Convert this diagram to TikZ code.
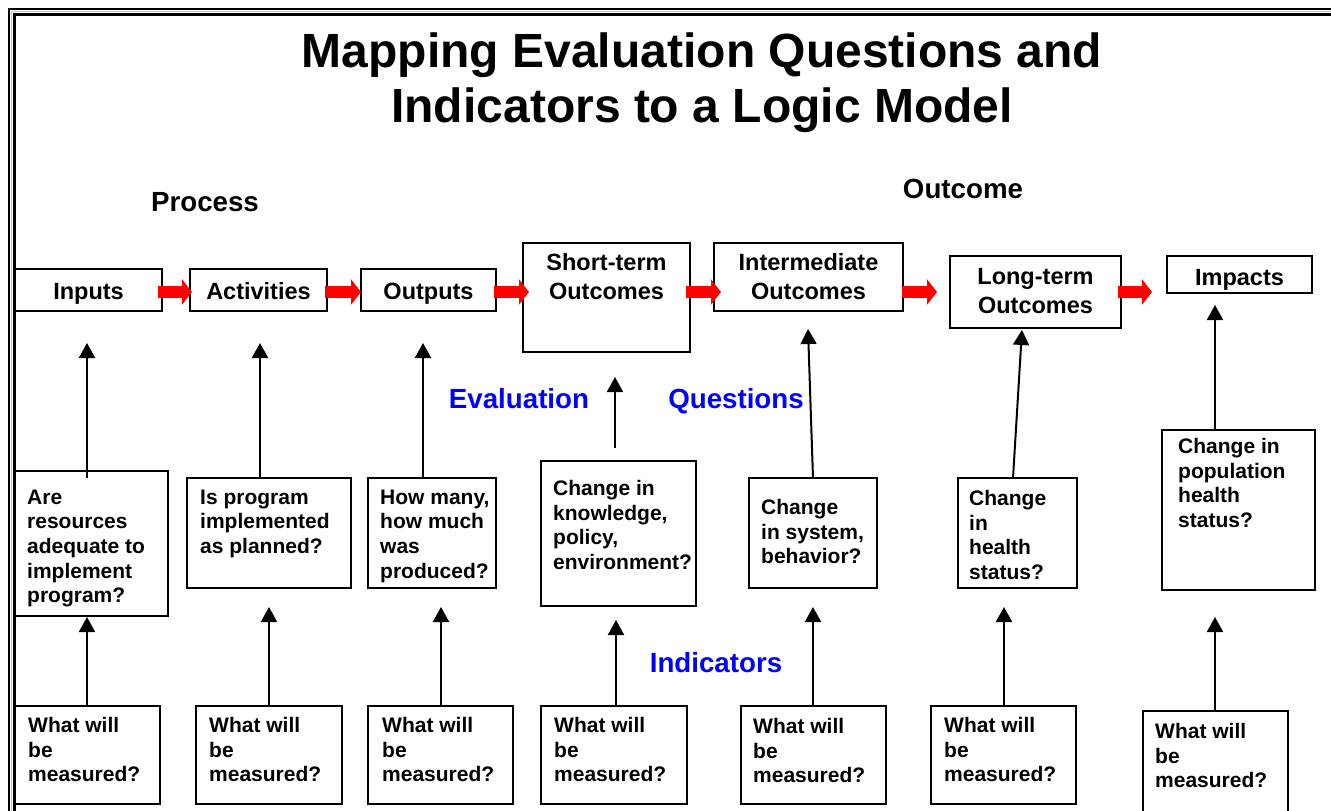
\documentclass[tikz,border=0pt]{standalone}
\usepackage{fontspec}
\setmainfont{Liberation Sans}
\usetikzlibrary{arrows.meta,calc}
\definecolor{pblue}{RGB}{0,0,255}
\newcommand\mkbox[5]{\node[bx,minimum width=#4-#2,minimum height=#5-#3] (#1) at (#2,#3) {};}
\begin{document}
\begin{tikzpicture}[x=1pt,y=-1pt,
  bx/.style={draw,line width=2pt,inner sep=0pt,outer sep=0pt,anchor=north west},
  qtxt/.style={font=\fontsize{21}{24.7}\selectfont\bfseries,align=left,anchor=north west,inner sep=0pt},
  htxt/.style={font=\fontsize{23.5}{29}\selectfont\bfseries,align=center,inner sep=0pt},
  sec/.style={font=\fontsize{27.7}{33}\selectfont\bfseries,inner sep=0pt,anchor=base},
  up/.style={line width=2pt,-{Triangle[length=15pt,width=16pt]}},
  flow/.style={red,line width=12pt,-{Triangle[length=10pt,width=25pt]}}]
\useasboundingbox (0,0) rectangle (1331,811);
\clip (0,0) rectangle (1331,811);
\fill[white] (0,0) rectangle (1331,811);
% frame
\draw[line width=2.8pt] (9,9) rectangle (1400,900);
\draw[gray!50,line width=0.8pt] (11.6,11.6) rectangle (1400,900);
\draw[line width=3pt] (14.2,14.2) rectangle (1400,900);
% title and section labels
\node[font=\fontsize{48}{55}\selectfont\bfseries,align=center,anchor=north,inner sep=0pt] (title) at (702,33) {Mapping Evaluation Questions and\\Indicators to a Logic Model};
\node[sec] (process) at (205,211) {Process};
\node[sec] (outcome) at (963,198) {Outcome};
\node[sec,text=pblue] (evaluation) at (519,408) {Evaluation};
\node[sec,text=pblue] (questions) at (736,408) {Questions};
\node[sec,text=pblue] (indicators) at (716,672) {Indicators};
% header boxes
\mkbox{hin}{15}{269}{162}{311}
\mkbox{hact}{190}{269}{327}{311}
\mkbox{hout}{361}{269}{496}{311}
\mkbox{hst}{523}{243}{690}{352}
\mkbox{him}{714}{243}{903}{311}
\mkbox{hlt}{950}{256}{1121}{328}
\mkbox{himp}{1167}{256}{1312}{293}
\node[htxt,anchor=base] (tin) at (88.5,299.4) {Inputs};
\node[htxt,anchor=base] (tact) at (258.5,299.4) {Activities};
\node[htxt,anchor=base] (tout) at (428.5,299.4) {Outputs};
\node[htxt] (tst) at (606.5,277) {Short-term\\Outcomes};
\node[htxt] (tim) at (808.5,277) {Intermediate\\Outcomes};
\node[htxt] (tlt) at (1035.5,291) {Long-term\\Outcomes};
\node[htxt,anchor=base] (timp) at (1239.5,285.4) {Impacts};
% question boxes
\mkbox{qb1}{15}{471}{168}{616}
\mkbox{qb2}{187}{478}{351}{588}
\mkbox{qb3}{368}{478}{496}{588}
\mkbox{qb4}{541}{461}{696}{606}
\mkbox{qb5}{749}{478}{877}{588}
\mkbox{qb6}{958}{478}{1077}{588}
\mkbox{qb7}{1162}{430}{1315}{590}
\node[qtxt] (q1) at (27,489.5) {Are\\resources\\adequate to\\implement\\program?};
\node[qtxt] (q2) at (200,489.5) {Is program\\implemented\\as planned?};
\node[qtxt] (q3) at (380,489.5) {How many,\\how much\\was\\produced?};
\node[qtxt] (q4) at (553,480) {Change in\\knowledge,\\policy,\\environment?};
\node[qtxt] (q5) at (761,499) {Change\\in system,\\behavior?};
\node[qtxt] (q6) at (969,490) {Change\\in\\health\\status?};
\node[qtxt] (q7) at (1178,438) {Change in\\population\\health\\status?};
% measured boxes
\mkbox{mb1}{15}{706}{160}{804}
\mkbox{mb2}{196}{706}{342}{804}
\mkbox{mb3}{368}{706}{513}{804}
\mkbox{mb4}{541}{706}{687}{804}
\mkbox{mb5}{741}{706}{886}{804}
\mkbox{mb6}{931}{706}{1076}{804}
\mkbox{mb7}{1143}{711}{1288}{840}
\node[qtxt] (m1) at (28,717) {What will\\be\\measured?};
\node[qtxt] (m2) at (209,717) {What will\\be\\measured?};
\node[qtxt] (m3) at (382,717) {What will\\be\\measured?};
\node[qtxt] (m4) at (554,717) {What will\\be\\measured?};
\node[qtxt] (m5) at (753,718) {What will\\be\\measured?};
\node[qtxt] (m6) at (944,717) {What will\\be\\measured?};
\node[qtxt] (m7) at (1155,723) {What will\\be\\measured?};
% red flow arrows
\coordinate (flowy) at (0,292);
\draw[flow] ([xshift=-4pt]hin.east |- flowy) -- ([xshift=2pt]hact.west |- flowy);
\draw[flow] ([xshift=-2pt]hact.east |- flowy) -- ([xshift=0pt]hout.west |- flowy);
\draw[flow] ([xshift=-2pt]hout.east |- flowy) -- ([xshift=6pt]hst.west |- flowy);
\draw[flow] ([xshift=-4pt]hst.east |- flowy) -- ([xshift=7pt]him.west |- flowy);
\draw[flow] ([xshift=-1pt]him.east |- flowy) -- ([xshift=-13pt]hlt.west |- flowy);
\draw[flow] ([xshift=-3pt]hlt.east |- flowy) -- ([xshift=-15pt]himp.west |- flowy);
% question -> header arrows (tips)
\coordinate (t1) at (87,343);
\coordinate (t2) at (260,343);
\coordinate (t3) at (423,343);
\coordinate (t4) at (615,377);
\coordinate (t5) at (808,329);
\coordinate (t6) at (1022,330);
\coordinate (t7) at (1215,305);
\draw[up] ($(t1 |- qb1.north)+(0,7)$) -- (t1);
\draw[up] (t2 |- qb2.north) -- (t2);
\draw[up] (t3 |- qb3.north) -- (t3);
\draw[up] ($(t4 |- qb4.north)+(0,-13)$) -- (t4);
\draw[up] (qb5.north) -- (t5);
\draw[up] ([xshift=-4.5pt]qb6.north) -- (t6);
\draw[up] (t7 |- qb7.north) -- (t7);
% measured -> question arrows (tips)
\coordinate (b1) at (87,617);
\coordinate (b2) at (269,607);
\coordinate (b3) at (441,607);
\coordinate (b4) at (616,620);
\coordinate (b5) at (813,607);
\coordinate (b6) at (1004,607);
\coordinate (b7) at (1215,617);
\draw[up] (b1 |- mb1.north) -- (b1);
\draw[up] (b2 |- mb2.north) -- (b2);
\draw[up] (b3 |- mb3.north) -- (b3);
\draw[up] (b4 |- mb4.north) -- (b4);
\draw[up] (b5 |- mb5.north) -- (b5);
\draw[up] (b6 |- mb6.north) -- (b6);
\draw[up] (b7 |- mb7.north) -- (b7);
\end{tikzpicture}
\end{document}
